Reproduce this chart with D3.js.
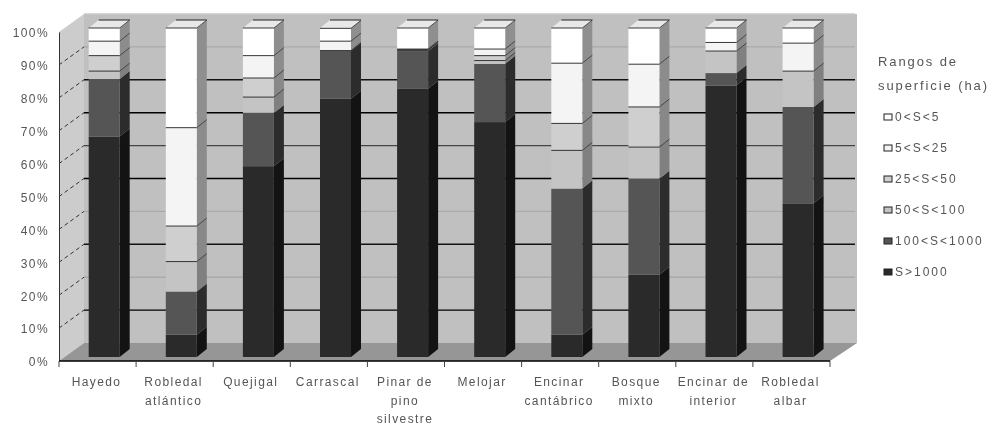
<!DOCTYPE html>
<html>
<head>
<meta charset="utf-8">
<script src="https://cdnjs.cloudflare.com/ajax/libs/d3/7.8.5/d3.min.js"></script>
<style>
body { margin: 0; background: #fff; }
svg { display: block; filter: blur(0.7px); }
text { font-family: "Liberation Sans", Arial, sans-serif; font-size: 12px; fill: #555; letter-spacing: 1.4px; filter: blur(0.4px); }
</style>
</head>
<body>
<div id="chart"></div>
<script>
const categories = ["Hayedo", "Robledal atlántico", "Quejigal", "Carrascal", "Pinar de pino silvestre", "Melojar", "Encinar cantábrico", "Bosque mixto", "Encinar de interior", "Robledal albar"];
const categoryLines = [["Hayedo"], ["Robledal", "atlántico"], ["Quejigal"], ["Carrascal"], ["Pinar de", "pino", "silvestre"], ["Melojar"], ["Encinar", "cantábrico"], ["Bosque", "mixto"], ["Encinar de", "interior"], ["Robledal", "albar"]];

// bottom to top of each column, in %
const sMas1000 = [67, 6.8, 58, 78.5, 81.5, 71.4, 6.8, 25, 82.5, 46.7];
const s100a1000 = [17.5, 13.1, 16.2, 14.4, 11.5, 17.7, 44.4, 29.2, 3.8, 29.3];
const s50a100 = [2.4, 9.1, 4.8, 0.1, 0.2, 1, 11.6, 9.6, 6.7, 10.9];
const s25a50 = [4.7, 10.8, 5.8, 0.1, 0.2, 1.5, 8.2, 12.2, 0, 0];
const s5a25 = [4.4, 29.9, 6.8, 2.9, 0.2, 2, 18.3, 13, 2.6, 8.5];
const s0a5 = [4, 30.3, 8.4, 3.9, 6.4, 6.4, 10.7, 11, 4.4, 4.6];

const seriesNames = ["S>1000", "100<S<1000", "50<S<100", "25<S<50", "5<S<25", "0<S<5"];
const seriesValues = [sMas1000, s100a1000, s50a100, s25a50, s5a25, s0a5];
const seriesFront = ["#2a2a2a", "#555555", "#c4c4c4", "#cfcfcf", "#f4f4f4", "#ffffff"];
const seriesSide = ["#131313", "#2c2c2c", "#808080", "#888888", "#8c8c8c", "#8f8f8f"];
const legendNames = ["0<S<5", "5<S<25", "25<S<50", "50<S<100", "100<S<1000", "S>1000"];
const legendTitle = ["Rangos de", "superficie (ha)"];

const percentTicks = [0, 10, 20, 30, 40, 50, 60, 70, 80, 90, 100];
const gridColors = ["none", "#000", "#aaa", "#111", "#aaa", "#000", "#444", "#000", "#111", "#aaa", "#c8c8c8"];

const width = 992;
const height = 426;
const plot = { left: 59, right: 830, top: 32, bottom: 361 };
const depth = { x: 25, y: -18 };       // chart depth
const barDepth = { x: 10, y: -8 };     // column depth
const barWidth = 31;
const barInset = 29.7;                 // column front from the left of its band
const barLift = -4;                    // column front above the axis plane

const svg = d3.select("#chart")
    .append("svg")
    .attr("width", width)
    .attr("height", height);

const xScale = d3.scaleBand()
    .domain(categories)
    .range([plot.left, plot.right]);

const yScale = d3.scaleLinear()
    .domain([0, 100])
    .range([plot.bottom, plot.top]);

const frontY = v => yScale(v) + barLift;
const poly = pts => pts.map(p => p.join(",")).join(" ");

// walls
const wallRight = plot.right + depth.x + 2;
svg.append("polygon")
    .attr("points", poly([[plot.left + depth.x, plot.top + depth.y], [wallRight, plot.top + depth.y], [wallRight, plot.bottom + depth.y], [plot.left + depth.x, plot.bottom + depth.y]]))
    .attr("fill", "#c0c0c0");
svg.append("polygon")
    .attr("points", poly([[plot.left, plot.top], [plot.left + depth.x, plot.top + depth.y], [plot.left + depth.x, plot.bottom + depth.y], [plot.left, plot.bottom]]))
    .attr("fill", "#cccccc");
svg.append("polygon")
    .attr("points", poly([[plot.left, plot.bottom], [plot.left + depth.x, plot.bottom + depth.y], [wallRight, plot.bottom + depth.y], [plot.right, plot.bottom]]))
    .attr("fill", "#969696");

// grid lines on the back wall and the left wall
svg.selectAll("line.grid")
    .data(percentTicks.filter(d => d > 0))
    .join("line")
    .attr("class", "grid")
    .attr("x1", plot.left + depth.x)
    .attr("x2", plot.right + depth.x)
    .attr("y1", d => yScale(d) + depth.y)
    .attr("y2", d => yScale(d) + depth.y)
    .attr("stroke", d => gridColors[percentTicks.indexOf(d)])
    .attr("stroke-width", 1.4);

svg.selectAll("line.gridside")
    .data(percentTicks.filter(d => d > 0 && d < 100))
    .join("line")
    .attr("class", "gridside")
    .attr("x1", plot.left)
    .attr("x2", plot.left + depth.x)
    .attr("y1", d => yScale(d))
    .attr("y2", d => yScale(d) + depth.y)
    .attr("stroke", "#222")
    .attr("stroke-width", 0.9)
    .attr("stroke-dasharray", "4 3");

// columns
const stacked = categories.map((c, i) => {
    let sum = 0;
    return seriesValues.map((vals, s) => {
        const d = { category: c, series: s, y0: sum, y1: sum + vals[i] };
        sum += vals[i];
        return d;
    });
});

const bars = svg.selectAll("g.bar")
    .data(stacked)
    .join("g")
    .attr("class", "bar")
    .attr("transform", (d, i) => `translate(${xScale(categories[i]) + barInset},0)`);

bars.selectAll("polygon.side")
    .data(d => d)
    .join("polygon")
    .attr("class", "side")
    .attr("points", d => poly([
        [barWidth, frontY(d.y1)], [barWidth + barDepth.x, frontY(d.y1) + barDepth.y],
        [barWidth + barDepth.x, frontY(d.y0) + barDepth.y], [barWidth, frontY(d.y0)]]))
    .attr("fill", d => seriesSide[d.series]);

bars.append("polygon")
    .attr("points", poly([
        [0, frontY(100)], [barDepth.x, frontY(100) + barDepth.y],
        [barWidth + barDepth.x, frontY(100) + barDepth.y], [barWidth, frontY(100)]]))
    .attr("fill", "#e8e8e8");

bars.append("line")
    .attr("x1", barDepth.x).attr("x2", barWidth + barDepth.x)
    .attr("y1", frontY(100) + barDepth.y).attr("y2", frontY(100) + barDepth.y)
    .attr("stroke", "#222");

bars.selectAll("rect")
    .data(d => d)
    .join("rect")
    .attr("x", 0)
    .attr("width", barWidth)
    .attr("y", d => frontY(d.y1))
    .attr("height", d => frontY(d.y0) - frontY(d.y1))
    .attr("fill", d => seriesFront[d.series]);

// segment edges on the light part of each column
bars.selectAll("line.edge")
    .data(d => d.filter(p => p.series >= 2 && p.y1 > p.y0))
    .join("line")
    .attr("class", "edge")
    .attr("x1", 0)
    .attr("x2", barWidth)
    .attr("y1", d => frontY(d.y1))
    .attr("y2", d => frontY(d.y1))
    .attr("stroke", "#222")
    .attr("stroke-width", 0.9);

bars.selectAll("line.edgeside")
    .data(d => d.filter(p => p.series >= 2 && p.y1 > p.y0))
    .join("line")
    .attr("class", "edgeside")
    .attr("x1", barWidth)
    .attr("x2", barWidth + barDepth.x)
    .attr("y1", d => frontY(d.y1))
    .attr("y2", d => frontY(d.y1) + barDepth.y)
    .attr("stroke", "#222")
    .attr("stroke-width", 0.7);

// axes
const yAxis = d3.axisLeft(yScale)
    .tickValues(percentTicks)
    .tickFormat(d => d + "%")
    .tickSize(0)
    .tickPadding(10);
const yG = svg.append("g")
    .attr("transform", `translate(${plot.left},0)`)
    .call(yAxis);
yG.select(".domain").attr("stroke", "#333");
yG.selectAll("text").attr("dy", "0.4em");
yG.attr("font-family", null).attr("font-size", null);

const xG = svg.append("g");
xG.append("line")
    .attr("x1", plot.left).attr("x2", plot.right)
    .attr("y1", plot.bottom).attr("y2", plot.bottom)
    .attr("stroke", "#000")
    .attr("stroke-width", 1.6);
xG.selectAll("line.tick")
    .data([...categories.map(c => xScale(c)), plot.right])
    .join("line")
    .attr("class", "tick")
    .attr("x1", d => d).attr("x2", d => d)
    .attr("y1", plot.bottom).attr("y2", plot.bottom + 6)
    .attr("stroke", "#444");

xG.selectAll("text.cat")
    .data(categoryLines)
    .join("text")
    .attr("class", "cat")
    .attr("text-anchor", "middle")
    .attr("y", 386)
    .each(function (lines, i) {
        d3.select(this).selectAll("tspan")
            .data(lines)
            .join("tspan")
            .attr("x", xScale(categories[i]) + xScale.bandwidth() / 2 - 1)
            .attr("dy", (d, k) => k === 0 ? 0 : 18.5)
            .text(d => d);
    });

// legend
svg.selectAll("text.legendtitle")
    .data(legendTitle)
    .join("text")
    .attr("class", "legendtitle")
    .attr("x", 878)
    .attr("y", (d, i) => 66 + i * 24)
    .style("font-size", "13px")
    .style("letter-spacing", "1.9px")
    .text(d => d);

const legendY = d3.scalePoint()
    .domain(legendNames)
    .range([117, 272]);

svg.selectAll("rect.legend")
    .data(legendNames)
    .join("rect")
    .attr("class", "legend")
    .attr("x", 884)
    .attr("y", d => legendY(d) - 3)
    .attr("width", 8)
    .attr("height", 6)
    .attr("fill", d => seriesFront[seriesNames.indexOf(d)])
    .attr("stroke", "#222");

svg.selectAll("text.legend")
    .data(legendNames)
    .join("text")
    .attr("class", "legend")
    .attr("x", 895)
    .attr("y", d => legendY(d) + 4)
    .style("letter-spacing", "2px")
    .text(d => d);
</script>
</body>
</html>
